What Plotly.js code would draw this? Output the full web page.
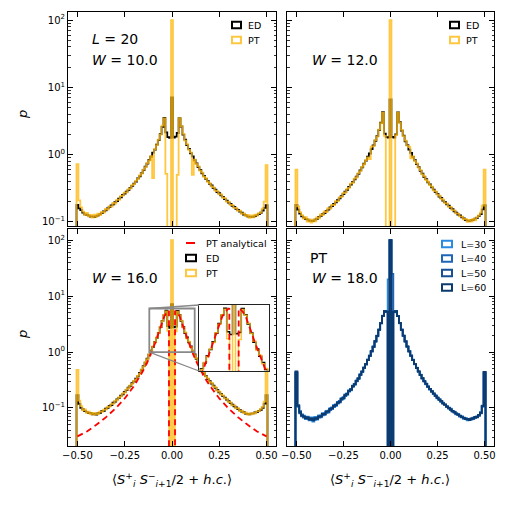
<!DOCTYPE html>
<html><head><meta charset="utf-8">
<script src="https://cdn.plot.ly/plotly-3.0.1.min.js"></script>
<style>html,body{margin:0;padding:0;background:#fff}#chart{width:507px;height:507px}</style>
</head><body><div id="chart"></div>
<script>
// ---------------- data ----------------
const binCenters = [-0.50,-0.49,-0.48,-0.47,-0.46,-0.45,-0.44,-0.43,-0.42,-0.41,-0.40,-0.39,-0.38,-0.37,-0.36,-0.35,-0.34,-0.33,-0.32,-0.31,-0.30,-0.29,-0.28,-0.27,-0.26,-0.25,-0.24,-0.23,-0.22,-0.21,-0.20,-0.19,-0.18,-0.17,-0.16,-0.15,-0.14,-0.13,-0.12,-0.11,-0.10,-0.09,-0.08,-0.07,-0.06,-0.05,-0.04,-0.03,-0.02,-0.01,0.00,0.01,0.02,0.03,0.04,0.05,0.06,0.07,0.08,0.09,0.10,0.11,0.12,0.13,0.14,0.15,0.16,0.17,0.18,0.19,0.20,0.21,0.22,0.23,0.24,0.25,0.26,0.27,0.28,0.29,0.30,0.31,0.32,0.33,0.34,0.35,0.36,0.37,0.38,0.39,0.40,0.41,0.42,0.43,0.44,0.45,0.46,0.47,0.48,0.49,0.50];

// W = 10.0, L = 20
const edW10 = [0.18,0.16,0.15,0.138,0.13,0.128,0.124,0.12,0.121,0.118,0.122,0.125,0.131,0.135,0.144,0.149,0.159,0.166,0.176,0.183,0.197,0.204,0.222,0.233,0.252,0.263,0.283,0.298,0.322,0.343,0.372,0.398,0.443,0.478,0.532,0.588,0.662,0.738,0.834,0.938,1.07,1.19,1.41,1.64,2.02,2.58,3.52,2.15,1.82,1.78,7.1,1.80,1.85,2.1,3.48,2.62,1.98,1.67,1.39,1.22,1.05,0.945,0.826,0.744,0.655,0.594,0.527,0.484,0.438,0.404,0.367,0.348,0.318,0.302,0.279,0.267,0.248,0.236,0.219,0.207,0.194,0.186,0.173,0.168,0.157,0.151,0.142,0.137,0.129,0.126,0.121,0.119,0.12,0.118,0.122,0.126,0.131,0.137,0.148,0.162,0.178];
const ptW10 = [0.72,0.21,0.165,0.142,0.128,0.136,0.121,0.127,0.116,0.128,0.119,0.133,0.127,0.141,0.138,0.156,0.152,0.171,0.169,0.192,0.188,0.213,0.214,0.242,0.246,0.272,0.276,0.305,0.316,0.352,0.366,0.407,0.436,0.49,0.525,0.6,0.652,0.752,0.82,0.95,0.45,1.21,1.39,1.67,1.98,2.7,3.45,0.52,0,0,100,0,0,0.5,3.5,2.65,2.03,1.62,1.43,1.18,1.08,0.5,0.84,0.73,0.67,0.58,0.54,0.47,0.446,0.395,0.376,0.338,0.327,0.293,0.287,0.259,0.256,0.229,0.226,0.2,0.199,0.18,0.178,0.162,0.161,0.146,0.147,0.132,0.134,0.122,0.127,0.115,0.125,0.117,0.128,0.124,0.135,0.138,0.158,0.2,0.7];

// W = 12.0
const edW12 = [0.18,0.152,0.133,0.121,0.116,0.11,0.108,0.104,0.105,0.103,0.108,0.111,0.119,0.123,0.131,0.136,0.146,0.153,0.164,0.172,0.185,0.195,0.211,0.224,0.242,0.259,0.281,0.299,0.331,0.358,0.392,0.428,0.472,0.518,0.583,0.647,0.733,0.818,0.934,1.04,1.21,1.37,1.61,1.89,2.32,2.98,4.3,2.05,1.82,1.8,6.6,1.83,1.8,2.0,4.25,3.03,2.28,1.92,1.58,1.39,1.19,1.06,0.926,0.826,0.725,0.655,0.576,0.524,0.466,0.433,0.387,0.362,0.327,0.303,0.278,0.262,0.239,0.227,0.208,0.197,0.183,0.174,0.162,0.155,0.144,0.138,0.129,0.125,0.117,0.113,0.107,0.105,0.103,0.106,0.107,0.112,0.115,0.123,0.131,0.154,0.178];
const ptW12 = [0.6,0.17,0.14,0.126,0.112,0.118,0.101,0.109,0.098,0.108,0.102,0.117,0.113,0.129,0.126,0.143,0.14,0.16,0.158,0.18,0.178,0.203,0.204,0.232,0.236,0.268,0.274,0.31,0.322,0.37,0.382,0.44,0.462,0.53,0.57,0.66,0.72,0.83,0.91,0.86,1.32,1.34,1.64,1.86,2.36,2.94,4.2,1.9,0,0,100,0,0,1.95,4.22,3.0,2.33,1.88,1.62,1.36,1.3,0.88,0.94,0.81,0.74,0.64,0.588,0.51,0.478,0.42,0.396,0.352,0.336,0.295,0.285,0.254,0.245,0.22,0.214,0.19,0.188,0.168,0.167,0.15,0.149,0.134,0.133,0.121,0.12,0.109,0.111,0.1,0.107,0.101,0.111,0.106,0.118,0.125,0.138,0.175,0.6];

// W = 16.0
const edW16 = [0.17,0.118,0.1,0.094,0.088,0.085,0.081,0.082,0.077,0.079,0.076,0.081,0.082,0.088,0.089,0.097,0.1,0.109,0.113,0.124,0.13,0.143,0.151,0.166,0.176,0.194,0.208,0.231,0.248,0.277,0.298,0.333,0.368,0.423,0.477,0.562,0.646,0.764,0.895,1.06,1.24,1.51,1.79,2.21,2.78,3.62,4.58,5.5,2.9,2.7,7.2,2.75,2.85,5.45,4.62,3.58,2.81,2.18,1.82,1.49,1.26,1.04,0.905,0.758,0.652,0.556,0.483,0.418,0.372,0.329,0.302,0.273,0.251,0.228,0.211,0.191,0.179,0.163,0.153,0.141,0.132,0.122,0.115,0.107,0.102,0.095,0.091,0.086,0.084,0.079,0.078,0.077,0.079,0.08,0.083,0.084,0.089,0.093,0.101,0.12,0.17];
const ptW16 = [0.48,0.135,0.108,0.091,0.094,0.082,0.086,0.078,0.082,0.076,0.081,0.078,0.086,0.085,0.093,0.094,0.104,0.106,0.117,0.12,0.134,0.139,0.155,0.161,0.18,0.188,0.212,0.225,0.253,0.27,0.305,0.325,0.376,0.41,0.488,0.548,0.66,0.748,0.91,1.04,1.26,1.48,1.82,2.17,2.82,3.56,4.62,5.35,2.4,0,100,0,2.35,5.3,4.55,3.65,2.76,2.24,1.76,1.53,1.22,1.07,0.88,0.775,0.638,0.57,0.47,0.43,0.362,0.338,0.294,0.281,0.244,0.235,0.205,0.196,0.174,0.168,0.149,0.145,0.128,0.126,0.111,0.111,0.098,0.099,0.088,0.09,0.081,0.083,0.076,0.08,0.077,0.082,0.08,0.087,0.088,0.096,0.105,0.13,0.47];
const anaX = [-0.5,-0.45,-0.4,-0.35,-0.3,-0.25,-0.2,-0.17,-0.15,-0.13,-0.11,-0.1,-0.09,-0.08,-0.07,-0.06,-0.05,-0.04,-0.03,-0.025,-0.02,-0.016,-0.016,0.016,0.016,0.02,0.025,0.03,0.04,0.05,0.06,0.07,0.08,0.09,0.1,0.11,0.13,0.15,0.17,0.2,0.25,0.3,0.35,0.4,0.45,0.5];
const anaW16 = [0.031,0.038,0.05,0.068,0.097,0.148,0.25,0.36,0.48,0.66,0.95,1.15,1.42,1.78,2.25,2.85,3.6,4.4,5.0,5.25,5.4,5.5,0,0,5.5,5.4,5.25,5.0,4.4,3.6,2.85,2.25,1.78,1.42,1.15,0.95,0.66,0.48,0.36,0.25,0.148,0.097,0.068,0.05,0.038,0.031];

// W = 18.0, PT, several L
const ptW18L30 = [0.42,0.105,0.088,0.071,0.073,0.063,0.07,0.06,0.068,0.057,0.069,0.062,0.074,0.068,0.081,0.075,0.089,0.083,0.099,0.095,0.113,0.108,0.129,0.125,0.15,0.145,0.174,0.172,0.208,0.207,0.251,0.258,0.312,0.328,0.402,0.437,0.532,0.596,0.735,0.845,1.05,1.23,1.58,1.91,2.55,3.24,4.46,5.3,5.2,20,100,0,5.15,5.35,4.44,3.27,2.51,1.93,1.56,1.24,1.04,0.85,0.728,0.6,0.527,0.442,0.396,0.334,0.305,0.265,0.244,0.213,0.201,0.177,0.169,0.149,0.144,0.129,0.124,0.112,0.109,0.097,0.097,0.086,0.086,0.077,0.078,0.07,0.071,0.064,0.066,0.06,0.064,0.062,0.067,0.066,0.071,0.072,0.085,0.105,0.42];
const ptW18L40 = [0.43,0.112,0.08,0.077,0.067,0.069,0.064,0.065,0.061,0.063,0.062,0.067,0.067,0.073,0.074,0.08,0.082,0.09,0.092,0.102,0.104,0.116,0.12,0.134,0.14,0.156,0.163,0.183,0.196,0.219,0.239,0.27,0.298,0.342,0.386,0.452,0.516,0.614,0.714,0.866,1.02,1.26,1.53,1.97,2.48,3.32,4.37,5.42,5.28,0,100,25,5.3,5.38,4.41,3.29,2.54,1.95,1.57,1.25,1.05,0.858,0.722,0.608,0.522,0.448,0.392,0.338,0.302,0.268,0.242,0.216,0.199,0.179,0.166,0.151,0.142,0.131,0.122,0.114,0.107,0.099,0.095,0.087,0.085,0.078,0.077,0.071,0.07,0.065,0.065,0.062,0.063,0.063,0.066,0.067,0.07,0.073,0.08,0.11,0.43];
const ptW18L50 = [0.44,0.108,0.086,0.072,0.071,0.065,0.067,0.063,0.064,0.061,0.065,0.065,0.07,0.071,0.077,0.078,0.085,0.087,0.095,0.099,0.108,0.113,0.124,0.13,0.144,0.151,0.168,0.178,0.2,0.214,0.243,0.266,0.303,0.337,0.392,0.447,0.522,0.608,0.72,0.86,1.03,1.25,1.55,1.95,2.5,3.3,4.4,5.41,5.3,0,100,0,5.27,5.39,4.4,3.3,2.5,1.96,1.55,1.25,1.03,0.862,0.718,0.61,0.52,0.45,0.39,0.34,0.3,0.27,0.24,0.217,0.197,0.18,0.165,0.152,0.141,0.132,0.121,0.115,0.106,0.1,0.094,0.088,0.084,0.079,0.076,0.072,0.069,0.066,0.064,0.063,0.062,0.064,0.065,0.068,0.069,0.074,0.081,0.109,0.44];
const ptW18L60 = [0.45,0.11,0.083,0.074,0.07,0.066,0.068,0.062,0.065,0.06,0.066,0.064,0.071,0.07,0.078,0.077,0.086,0.086,0.096,0.098,0.109,0.112,0.125,0.129,0.145,0.15,0.169,0.177,0.202,0.213,0.245,0.265,0.305,0.335,0.395,0.445,0.525,0.605,0.725,0.855,1.04,1.24,1.56,1.94,2.52,3.28,4.42,5.4,5.3,0,100,0,5.25,5.4,4.38,3.32,2.48,1.97,1.53,1.26,1.02,0.865,0.715,0.612,0.518,0.452,0.388,0.342,0.298,0.272,0.238,0.219,0.196,0.182,0.164,0.154,0.14,0.133,0.12,0.116,0.105,0.101,0.093,0.089,0.083,0.08,0.075,0.073,0.068,0.067,0.063,0.064,0.061,0.065,0.064,0.069,0.068,0.075,0.082,0.108,0.44];

const xTickVals = [-0.5,-0.25,0,0.25,0.5];
const yTickVals = [0.1,1,10,100];
const yTickText = ['10<sup>−1</sup>','10<sup>0</sup>','10<sup>1</sup>','10<sup>2</sup>'];
const panelLabels = [['<i>L</i> = 20','<i>W</i> = 10.0'],['<i>W</i> = 12.0'],['<i>W</i> = 16.0'],['PT','<i>W</i> = 18.0']];
const lLabels = ['L=30','L=40','L=50','L=60'];

// ---------------- styles ----------------
const FONT = 'DejaVu Sans';
const FLOOR = 1e-3;
const cED = '#000000', cPT = '#FFB90F', cANA = '#FF0000';
const cL = ['#2b8be0','#1f66b8','#174f94','#0b3a6e'];

function stepTrace(vals, xa, ya, color, width, opacity) {
  const w = binCenters[1] - binCenters[0];
  const n = vals.length;
  const xs = [binCenters[0] - w/2], ys = [FLOOR];
  for (let i = 0; i < n; i++) { xs.push(binCenters[i] - w/2); ys.push(vals[i] > 0 ? vals[i] : FLOOR); }
  xs.push(binCenters[n-1] + w/2); ys.push(ys[ys.length-1]);
  xs.push(binCenters[n-1] + w/2); ys.push(FLOOR);
  return {type:'scatter', mode:'lines', x:xs, y:ys, xaxis:xa, yaxis:ya,
    line:{shape:'hv', color:color, width:width}, opacity:opacity, showlegend:false, hoverinfo:'skip'};
}
function lineTrace(xv, yv, xa, ya) {
  return {type:'scatter', mode:'lines', x:xv, y:yv.map(v => v > 0 ? v : FLOOR), xaxis:xa, yaxis:ya,
    line:{color:cANA, width:1.8, dash:'6px,4px'}, showlegend:false, hoverinfo:'skip'};
}

const traces = [
  stepTrace(edW10,'x','y',cED,1.8,1), stepTrace(ptW10,'x','y',cPT,1.8,0.8),
  stepTrace(edW12,'x2','y2',cED,1.8,1), stepTrace(ptW12,'x2','y2',cPT,1.8,0.8),
  stepTrace(edW16,'x3','y3',cED,1.8,1), stepTrace(ptW16,'x3','y3',cPT,1.8,0.8), lineTrace(anaX,anaW16,'x3','y3'),
  stepTrace(ptW18L30,'x4','y4',cL[0],1.8,1), stepTrace(ptW18L40,'x4','y4',cL[1],1.8,1),
  stepTrace(ptW18L50,'x4','y4',cL[2],1.8,1), stepTrace(ptW18L60,'x4','y4',cL[3],1.8,1),
  stepTrace(edW16,'x5','y5',cED,1.5,1), stepTrace(ptW16,'x5','y5',cPT,1.5,0.8), lineTrace(anaX,anaW16,'x5','y5')
];

// geometry
const M = {l:68, r:13, t:12, b:61};
const PW = 507 - M.l - M.r, PH = 507 - M.t - M.b;
const px = v => (v - M.l) / PW;
const py = v => (507 - M.b - v) / PH;
const xDomL = [0, px(276)], xDomR = [px(287), 1];
const yDomT = [py(226), 1], yDomB = [0, py(229)];
const yRangeT = [-1.06, 2.12], yRangeB = [-1.68, 2.2];
const xRange = [-0.55, 0.55];
const insetX = [-0.12, 0.12], insetY = [1, 6];
const insetDomX = [px(199), px(269)], insetDomY = [py(371), py(305)];

const minorVals = [];
[0.01,0.1,1,10,100].forEach(d => { for (let k = 2; k <= 9; k++) minorVals.push(d*k); });

function xAx(dom, anchor, labels) {
  return {domain:dom, anchor:anchor, range:xRange, tickmode:'array', tickvals:xTickVals, tickformat:'.2f',
    ticks:'inside', ticklen:5, tickwidth:1, tickcolor:'#000', showline:true, linecolor:'#000', linewidth:1,
    mirror:'ticks', showgrid:false, zeroline:false, showticklabels:labels,
    tickfont:{family:FONT, size:10, color:'#000'}};
}
function yAx(dom, anchor, range, labels) {
  return {domain:dom, anchor:anchor, type:'log', range:range, tickmode:'array', tickvals:yTickVals, ticktext:yTickText,
    ticks:'inside', ticklen:5, tickwidth:1, tickcolor:'#000', showline:true, linecolor:'#000', linewidth:1,
    mirror:'ticks', showgrid:false, zeroline:false, showticklabels:labels,
    minor:{tickmode:'array', tickvals:minorVals, ticks:'inside', ticklen:2.5, tickwidth:0.8, tickcolor:'#000', showgrid:false},
    tickfont:{family:FONT, size:10, color:'#000'}};
}

// legend helpers
const shapes = [], annotations = [];
function legBox(x0, x1, yc, color) {
  shapes.push({type:'rect', xref:'paper', yref:'paper', x0:px(x0), x1:px(x1), y0:py(yc+3.2), y1:py(yc-3.2),
    line:{color:color, width:2}, fillcolor:'rgba(0,0,0,0)'});
}
function legText(x, yc, text) {
  annotations.push({xref:'paper', yref:'paper', x:px(x), y:py(yc), text:text, showarrow:false,
    xanchor:'left', yanchor:'middle', font:{family:FONT, size:9.5, color:'#000'}});
}
// top-left
legBox(232,241,25,cED); legText(246,25,'ED');
legBox(232,241,40,'rgba(255,185,15,0.8)'); legText(246,40,'PT');
// top-right
legBox(450,459,25,cED); legText(464,25,'ED');
legBox(450,459,40,'rgba(255,185,15,0.8)'); legText(464,40,'PT');
// bottom-left
shapes.push({type:'line', xref:'paper', yref:'paper', x0:px(186), x1:px(195), y0:py(243), y1:py(243), line:{color:cANA, width:2}});
legText(204,243,'PT analytical');
legBox(186,196,258,cED); legText(204,258,'ED');
legBox(186,196,273,'rgba(255,185,15,0.8)'); legText(204,273,'PT');
// bottom-right
[244,258.5,273,287.5].forEach((yc,i) => { legBox(442,452,yc,cL[i]); legText(459,yc,lLabels[i]); });

// panel labels
function pLabel(xr, yr, x, y, text) {
  annotations.push({xref:xr+' domain', yref:yr+' domain', x:x, y:y, text:text, showarrow:false,
    xanchor:'left', yanchor:'middle', font:{family:FONT, size:14, color:'#000'}});
}
pLabel('x','y',0.105,0.874,panelLabels[0][0]); pLabel('x','y',0.105,0.776,panelLabels[0][1]);
pLabel('x2','y2',0.11,0.776,panelLabels[1][0]);
pLabel('x3','y3',0.105,0.774,panelLabels[2][0]);
pLabel('x4','y4',0.10,0.866,panelLabels[3][0]); pLabel('x4','y4',0.11,0.774,panelLabels[3][1]);

// axis titles
const xLabel = '⟨<i>S</i><sup>+</sup><sub><i>i</i></sub> <i>S</i><sup>−</sup><sub><i>i</i>+1</sub>/2 + <i>h</i>.<i>c</i>.⟩';
[[172,480],[390,480]].forEach(p => annotations.push({xref:'paper', yref:'paper', x:px(p[0]), y:py(p[1]), text:xLabel,
  showarrow:false, xanchor:'center', yanchor:'middle', font:{family:FONT, size:13, color:'#000'}}));
[115,335].forEach(yc => annotations.push({xref:'paper', yref:'paper', x:px(22), y:py(yc), text:'<i>p</i>', textangle:-90,
  showarrow:false, xanchor:'center', yanchor:'middle', font:{family:FONT, size:13, color:'#000'}}));

// inset marker box and connectors
shapes.push({type:'rect', xref:'x3', yref:'y3', x0:insetX[0], x1:insetX[1], y0:insetY[0], y1:insetY[1],
  line:{color:'#888888', width:1.8}, fillcolor:'rgba(0,0,0,0)'});
const x3p = v => xDomL[0] + (v - xRange[0]) / (xRange[1]-xRange[0]) * (xDomL[1]-xDomL[0]);
const y3p = v => yDomB[0] + (Math.log10(v) - yRangeB[0]) / (yRangeB[1]-yRangeB[0]) * (yDomB[1]-yDomB[0]);
shapes.push({type:'line', xref:'paper', yref:'paper', x0:x3p(insetX[0]), y0:y3p(insetY[1]), x1:insetDomX[0], y1:insetDomY[1], line:{color:'#888888', width:1.3}});
shapes.push({type:'line', xref:'paper', yref:'paper', x0:x3p(insetX[0]), y0:y3p(insetY[0]), x1:insetDomX[0], y1:insetDomY[0], line:{color:'#888888', width:1.3}});

const layout = {
  width:507, height:507, margin:M, paper_bgcolor:'#fff', plot_bgcolor:'#fff', showlegend:false,
  font:{family:FONT, size:10, color:'#000'},
  xaxis:xAx(xDomL,'y',false), yaxis:yAx(yDomT,'x',yRangeT,true),
  xaxis2:xAx(xDomR,'y2',false), yaxis2:yAx(yDomT,'x2',yRangeT,false),
  xaxis3:xAx(xDomL,'y3',true), yaxis3:yAx(yDomB,'x3',yRangeB,true),
  xaxis4:xAx(xDomR,'y4',true), yaxis4:yAx(yDomB,'x4',yRangeB,false),
  xaxis5:{domain:insetDomX, anchor:'y5', range:insetX, showticklabels:false, ticks:'', showline:true, mirror:true,
    linecolor:'#222', linewidth:1, showgrid:false, zeroline:false},
  yaxis5:{domain:insetDomY, anchor:'x5', type:'log', range:[Math.log10(insetY[0]), Math.log10(insetY[1])], showticklabels:false,
    ticks:'', showline:true, mirror:true, linecolor:'#222', linewidth:1, showgrid:false, zeroline:false},
  shapes:shapes, annotations:annotations
};
Plotly.newPlot('chart', traces, layout, {staticPlot:true, displayModeBar:false});
</script>
</body></html>
